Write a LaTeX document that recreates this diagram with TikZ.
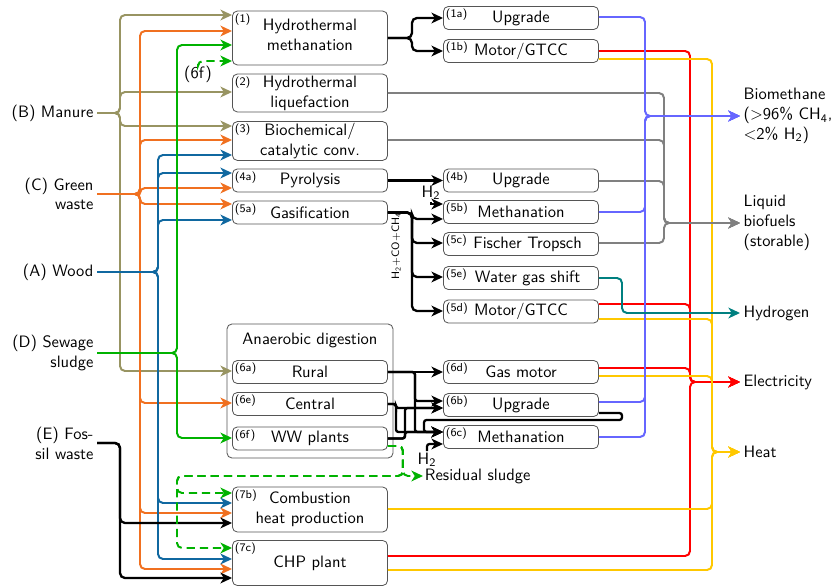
\documentclass[tikz,border=0pt]{standalone}
\usetikzlibrary{arrows.meta}
\renewcommand{\familydefault}{\sfdefault}

\definecolor{manurecol}{RGB}{152,148,98}
\definecolor{greencol}{RGB}{240,112,32}
\definecolor{woodcol}{RGB}{16,104,160}
\definecolor{sludgecol}{RGB}{0,178,0}
\definecolor{methcol}{RGB}{102,102,255}
\definecolor{eleccol}{RGB}{255,0,0}
\definecolor{heatcol}{RGB}{255,200,0}
\definecolor{hydcol}{RGB}{0,128,128}
\definecolor{liqcol}{RGB}{128,128,128}
\definecolor{boxgray}{RGB}{85,85,85}

\tikzset{
  >={Stealth[length=7pt,width=6.5pt,inset=2pt]},
  proc/.style={draw=boxgray, line width=0.5pt, rounded corners=3pt, minimum width=94pt, minimum height=14pt, inner sep=1pt, align=center},
  numtag/.style={anchor=north west, inner sep=1.5pt, font=\fontsize{7}{8}\selectfont},
  src/.style={anchor=east, align=right, inner sep=2pt},
  prod/.style={anchor=west, align=left, inner sep=2pt},
  flow/.style={line width=1.2pt, rounded corners=3pt, ->},
  manureflow/.style={flow, manurecol},
  greenflow/.style={flow, greencol},
  woodflow/.style={flow, woodcol},
  sludgeflow/.style={flow, sludgecol},
  sludgedash/.style={flow, sludgecol, dash pattern=on 5pt off 3pt},
  blackflow/.style={flow, line width=1.4pt},
  methflow/.style={flow, methcol},
  liqflow/.style={flow, liqcol},
  hydflow/.style={flow, hydcol},
  elecflow/.style={flow, eleccol},
  heatflow/.style={flow, heatcol}
}

\begin{document}
\begin{tikzpicture}[x=0.606pt, y=-0.606pt]
  \useasboundingbox (0,0) rectangle (839,586);

  \coordinate (busB) at (120,0);
  \coordinate (busC) at (140,0);
  \coordinate (busA) at (158,0);
  \coordinate (busD) at (177,0);
  \coordinate (busV) at (645,0);
  \coordinate (busL) at (664,0);
  \coordinate (busH) at (622,0);
  \coordinate (busR) at (690,0);
  \coordinate (busY) at (712,0);
  \coordinate (loop) at (424,420);

  \node[src] (srcB) at (97,113) {(B) Manure};
  \node[src] (srcC) at (97,194) {(C) Green\\waste};
  \node[src] (srcA) at (97,272) {(A) Wood};
  \node[src] (srcD) at (97,353) {(D) Sewage\\sludge};
  \node[src] (srcE) at (97,443) {(E) Fos-\\sil waste};

  \node[draw=boxgray, line width=0.5pt, rounded corners=3pt, minimum width=100.6pt, minimum height=81.2pt] (ad) at (310,391) {};
  \node (adtitle) at (310,340) {Anaerobic digestion};

  \node[proc, minimum height=32.7pt, label={[numtag]north west:(1)}] (p1) at (310,38) {Hydrothermal\\methanation\\[-8pt]\mbox{}};
  \node[proc, minimum height=23pt, label={[numtag]north west:(2)}] (p2) at (310,93) {Hydrothermal\\liquefaction};
  \node[proc, minimum height=23pt, label={[numtag]north west:(3)}] (p3) at (310,141) {Biochemical/\\catalytic conv.};
  \node[proc, label={[numtag]north west:(4a)}] (p4a) at (310,180.5) {Pyrolysis};
  \node[proc, label={[numtag]north west:(5a)}] (p5a) at (310,212.5) {Gasification};
  \node[proc, label={[numtag]north west:(6a)}] (p6a) at (310,372) {Rural};
  \node[proc, label={[numtag]north west:(6e)}] (p6e) at (310,404) {Central};
  \node[proc, label={[numtag]north west:(6f)}] (p6f) at (310,438.5) {WW plants};
  \node[proc, minimum height=27.3pt, label={[numtag]north west:(7b)}] (p7b) at (310,509.5) {Combustion\\heat production};
  \node[proc, minimum height=27.3pt, label={[numtag]north west:(7c)}] (p7c) at (310,563) {CHP plant};

  \node[proc, label={[numtag]north west:(1a)}] (p1a) at (521,18) {Upgrade};
  \node[proc, label={[numtag]north west:(1b)}] (p1b) at (521,51) {Motor/GTCC};
  \node[proc, label={[numtag]north west:(4b)}] (p4b) at (521,180.5) {Upgrade};
  \node[proc, label={[numtag]north west:(5b)}] (p5b) at (521,212) {Methanation};
  \node[proc, label={[numtag]north west:(5c)}] (p5c) at (521,244) {\hspace*{8pt}Fischer Tropsch};
  \node[proc, label={[numtag]north west:(5e)}] (p5e) at (521,278) {\hspace*{8pt}Water gas shift};
  \node[proc, label={[numtag]north west:(5d)}] (p5d) at (521,311.5) {Motor/GTCC};
  \node[proc, label={[numtag]north west:(6d)}] (p6d) at (521,372) {Gas motor};
  \node[proc, label={[numtag]north west:(6b)}] (p6b) at (521,405) {Upgrade};
  \node[proc, label={[numtag]north west:(6c)}] (p6c) at (521,437) {Methanation};

  \node[prod] (outCH4) at (740,116) {Biomethane\\($>$96\% CH\textsubscript{4},\\$<$2\% H\textsubscript{2})};
  \node[prod] (outLiq) at (740,223) {Liquid\\biofuels\\(storable)};
  \node[prod] (outH2) at (740,313) {Hydrogen};
  \node[prod] (outEl) at (740,382) {Electricity};
  \node[prod] (outHeat) at (740,452) {Heat};

  \node[inner sep=1pt] (tag6f) at (198,74) {(6f)};
  \node[inner sep=1pt] (hA) at (431,193) {H\textsubscript{2}};
  \node[inner sep=1pt] (hB) at (427,460) {H\textsubscript{2}};
  \node[anchor=west, inner sep=1pt] (resid) at (423,476) {Residual sludge};
  \node[rotate=90, inner sep=0pt, font=\fontsize{6.5}{7}\selectfont] (syngas) at (396,246) {H\textsubscript{2}+CO+CH\textsubscript{4}};

  \foreach \t/\y in {p1/15, p2/92, p3/126, p6a/371}
    \draw[manureflow] (srcB.east) -- (busB |- srcB.east) |- (\t.west |- 0,\y);
  \foreach \t/\y in {p1/31, p3/140, p4a/188, p5a/204, p6e/403, p7b/513, p7c/569}
    \draw[greenflow] (srcC.east) -- (busC |- srcC.east) |- (\t.west |- 0,\y);
  \foreach \t/\y in {p3/155, p4a/173, p5a/220, p7b/503, p7c/559}
    \draw[woodflow] (srcA.east) -- (busA |- srcA.east) |- (\t.west |- 0,\y);
  \foreach \t/\y in {p1/45, p6f/438}
    \draw[sludgeflow] (srcD.east) -- (busD |- srcD.east) |- (\t.west |- 0,\y);
  \foreach \t/\y in {p7b/523, p7c/578}
    \draw[blackflow] (srcE.east) -- (busB |- srcE.east) |- (\t.west |- 0,\y);

  \draw[sludgedash] (tag6f.north) |- (p1.west |- 0,61);
  \draw[sludgedash] (p6f.east |- 0,446) -- ++(15,0) |- (resid.west);
  \foreach \t/\y in {p7b/493, p7c/548}
    \draw[sludgedash] (p6f.east |- 0,446) -- ++(15,0) |- (busD |- resid.west) |- (\t.west |- 0,\y);

  \draw[blackflow] (p1.east) -- ++(24,0) |- (p1a.west);
  \draw[blackflow] (p1.east) -- ++(24,0) |- (p1b.west);
  \draw[blackflow] (p4a.east) -- (p4b.west);
  \draw[blackflow, sharp corners] (hA.south) |- (p5b.west |- 0,204);
  \foreach \t/\y in {p5b/219, p5c/243, p5e/277, p5d/311}
    \draw[blackflow] (p5a.east) -- ++(24,0) |- (\t.west |- 0,\y);

  \draw[blackflow] (p6a.east) -- (p6d.west);
  \foreach \s/\d/\yb in {p6a/27/401, p6e/8/408, p6f/17/408} {
    \draw[blackflow, rounded corners=1.5pt] (\s.east) -- ++(\d,0) |- (p6b.west |- 0,\yb);
    \draw[blackflow, rounded corners=1.5pt] (\s.east) -- ++(\d,0) |- (p6c.west |- 0,432);
  }
  \draw[blackflow, rounded corners=1.5pt] (p6b.east |- 0,413) -- ++(23,0) |- (loop) |- (p6c.west |- 0,432);
  \draw[blackflow, rounded corners=1.5pt] (hB.north) |- (p6c.west |- 0,444);

  \foreach \s/\y in {p1b/51, p5d/304, p6d/368, p7c/556}
    \draw[elecflow] (\s.east |- 0,\y) -- (busR |- 0,\y) |- (outEl.west);
  \foreach \s/\y in {p1b/59, p5d/319, p6d/376, p7b/509, p7c/570}
    \draw[heatflow] (\s.east |- 0,\y) -- (busY |- 0,\y) |- (outHeat.west);
  \foreach \s/\y in {p2/93, p3/140, p4b/181, p5c/243}
    \draw[liqflow] (\s.east |- 0,\y) -- (busL |- 0,\y) |- (outLiq.west);
  \foreach \s/\y in {p1a/17, p5b/212, p6b/402, p6c/437}
    \draw[methflow] (\s.east |- 0,\y) -- (busV |- 0,\y) |- (outCH4.west);
  \draw[hydflow] (p5e.east) -- (busH |- p5e.east) |- (outH2.west);
\end{tikzpicture}
\end{document}
